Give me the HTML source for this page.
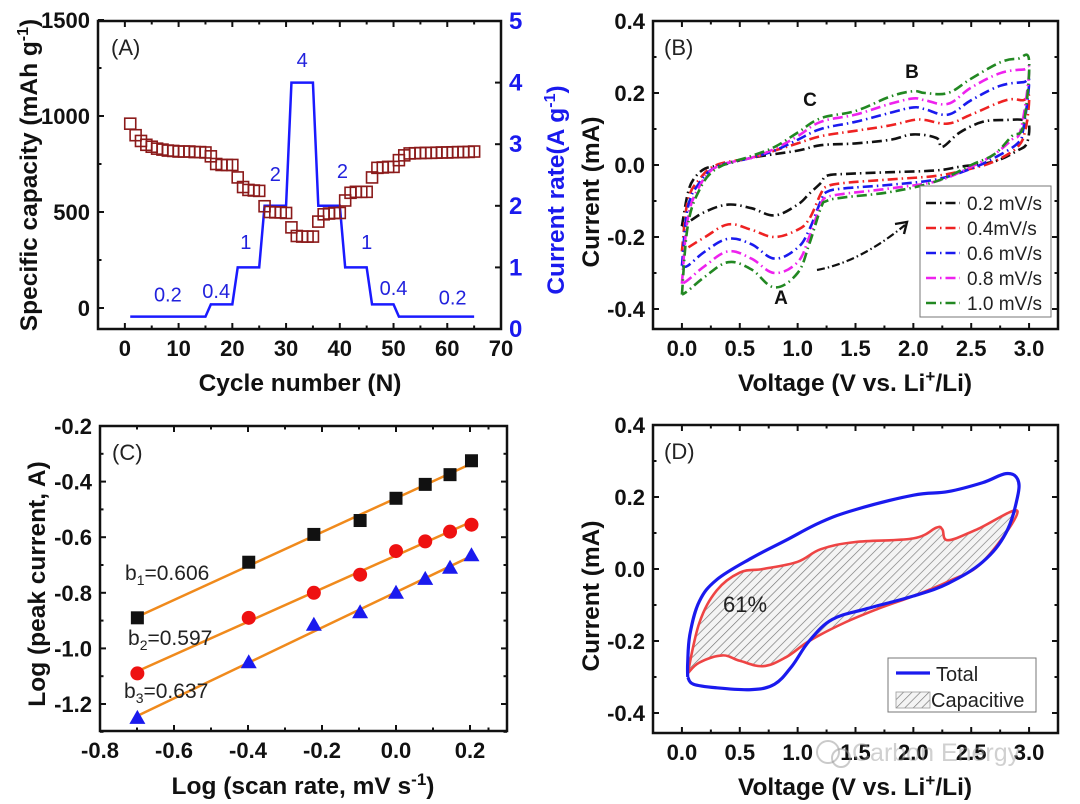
<!DOCTYPE html>
<html><head><meta charset="utf-8"><style>
body{margin:0;background:#fff;}
svg{display:block;font-family:"Liberation Sans",Arial,sans-serif;}
.tk{font-weight:bold;font-size:22px;fill:#111;}
.ttl{font-weight:bold;font-size:24.5px;fill:#111;}
</style></head><body>
<svg id="fig" width="1080" height="804" viewBox="0 0 1080 804">
<defs>
<pattern id="hatch" width="6" height="6" patternUnits="userSpaceOnUse" patternTransform="rotate(45)">
<rect width="6" height="6" fill="#f4f4f4"/><line x1="0" y1="0" x2="0" y2="6" stroke="#777" stroke-width="1.3"/>
</pattern>
</defs>
</svg>
<script>
// ===== Panel A data =====
const cycles = Array.from({length:65},(_,i)=>i+1);
const capacity = [960,900,870,850,840,830,825,820,818,815,815,815,812,812,810,790,750,745,745,745,680,630,615,612,610,530,500,498,498,495,420,375,372,372,372,450,488,492,495,495,560,600,605,605,605,680,730,732,735,735,770,795,805,806,807,808,808,809,810,810,811,812,812,813,815];
const rateX = [1,15,16,20,21,25,26,30,31,35,36,40,41,45,46,50,51,65];
const rateY = [0.2,0.2,0.4,0.4,1,1,2,2,4,4,2,2,1,1,0.4,0.4,0.2,0.2];
const rateLabels = ["0.2","0.4","1","2","4","2","1","0.4","0.2"];
const rateLabelX = [8,17,22.5,28,33,40.5,45,50,61];
const rateLabelY = [0.45,0.5,1.3,2.4,4.25,2.45,1.3,0.55,0.4];
const aXTicks = [0,10,20,30,40,50,60,70];
const aYTicks = [0,500,1000,1500];
const aY2Ticks = [0,1,2,3,4,5];

// ===== Panel B data =====
const scanRates = ["0.2 mV/s","0.4mV/s","0.6 mV/s","0.8 mV/s","1.0 mV/s"];
const cvColors = ["#111","#ee2222","#1a1aee","#ee22ee","#228822"];
const cvB1 = [[0,-0.17],[0.05,-0.08],[0.1,-0.04],[0.2,-0.01],[0.35,0],[0.6,0.02],[1.0,0.04],[1.2,0.055],[1.5,0.06],[1.8,0.07],[2.0,0.085],[2.2,0.075],[2.25,0.05],[2.4,0.09],[2.6,0.12],[2.8,0.125],[2.95,0.125],[3.0,0.11],[2.98,0.06],[2.9,0.04],[2.7,0.01],[2.4,-0.005],[2.2,-0.015],[1.8,-0.02],[1.4,-0.025],[1.25,-0.03],[1.2,-0.05],[1.1,-0.08],[1.0,-0.11],[0.8,-0.14],[0.6,-0.12],[0.4,-0.11],[0.2,-0.13],[0.05,-0.16],[0,-0.17]];
const cvB2 = [[0,-0.24],[0.05,-0.1],[0.15,-0.04],[0.3,0],[0.6,0.02],[0.8,0.04],[1.0,0.06],[1.2,0.08],[1.5,0.095],[1.8,0.11],[2.0,0.125],[2.1,0.125],[2.3,0.115],[2.5,0.14],[2.8,0.18],[2.95,0.18],[3.0,0.19],[2.97,0.1],[2.9,0.05],[2.7,0.01],[2.5,-0.01],[2.2,-0.03],[1.8,-0.04],[1.4,-0.05],[1.25,-0.06],[1.2,-0.08],[1.1,-0.15],[1.0,-0.18],[0.8,-0.2],[0.6,-0.18],[0.4,-0.165],[0.2,-0.2],[0.05,-0.23],[0,-0.24]];
const cvB3 = [[0,-0.28],[0.05,-0.12],[0.15,-0.05],[0.3,-0.005],[0.6,0.02],[0.8,0.04],[1.0,0.07],[1.2,0.1],[1.5,0.12],[1.8,0.145],[2.0,0.16],[2.1,0.155],[2.3,0.14],[2.5,0.18],[2.75,0.22],[2.95,0.23],[3.0,0.23],[2.95,0.1],[2.9,0.06],[2.7,0.02],[2.5,-0.01],[2.2,-0.04],[1.8,-0.055],[1.4,-0.065],[1.25,-0.075],[1.2,-0.1],[1.1,-0.18],[1.0,-0.23],[0.8,-0.26],[0.6,-0.22],[0.4,-0.205],[0.2,-0.24],[0.05,-0.28],[0,-0.28]];
const cvB4 = [[0,-0.33],[0.05,-0.15],[0.15,-0.06],[0.3,-0.005],[0.6,0.02],[0.8,0.045],[1.0,0.08],[1.2,0.12],[1.5,0.14],[1.8,0.17],[2.0,0.185],[2.1,0.18],[2.3,0.17],[2.5,0.215],[2.75,0.255],[2.95,0.265],[3.0,0.26],[2.93,0.1],[2.85,0.07],[2.7,0.03],[2.5,-0.005],[2.2,-0.045],[1.8,-0.065],[1.4,-0.08],[1.25,-0.09],[1.2,-0.11],[1.1,-0.2],[1.0,-0.27],[0.8,-0.3],[0.6,-0.26],[0.4,-0.24],[0.2,-0.28],[0.05,-0.32],[0,-0.33]];
const cvB5 = [[0,-0.36],[0.05,-0.17],[0.15,-0.07],[0.3,-0.01],[0.6,0.025],[0.8,0.05],[1.0,0.09],[1.2,0.13],[1.5,0.15],[1.8,0.19],[2.0,0.205],[2.1,0.2],[2.3,0.2],[2.5,0.24],[2.75,0.285],[2.9,0.295],[3.0,0.29],[2.95,0.11],[2.85,0.08],[2.7,0.03],[2.5,0],[2.2,-0.045],[1.8,-0.075],[1.4,-0.09],[1.25,-0.1],[1.2,-0.12],[1.1,-0.22],[1.0,-0.3],[0.8,-0.34],[0.6,-0.29],[0.4,-0.27],[0.2,-0.31],[0.05,-0.35],[0,-0.36]];
const vTicks = [0,0.5,1,1.5,2,2.5,3];
const vTickLabels = ["0.0","0.5","1.0","1.5","2.0","2.5","3.0"];
const iTicks = [-0.4,-0.2,0,0.2,0.4];
const iTickLabels = ["-0.4","-0.2","0.0","0.2","0.4"];

// ===== Panel C data =====
const logRate = [-0.699,-0.398,-0.222,-0.097,0,0.079,0.146,0.204];
const logI1 = [-0.89,-0.69,-0.59,-0.54,-0.46,-0.41,-0.375,-0.325];
const logI2 = [-1.09,-0.89,-0.80,-0.735,-0.65,-0.615,-0.58,-0.555];
const logI3 = [-1.25,-1.05,-0.915,-0.87,-0.80,-0.75,-0.71,-0.665];
const bLabels = ["0.606","0.597","0.637"];
const cXTicks = [-0.8,-0.6,-0.4,-0.2,0,0.2];
const cXTickLabels = ["-0.8","-0.6","-0.4","-0.2","0.0","0.2"];
const cYTicks = [-1.2,-1.0,-0.8,-0.6,-0.4,-0.2];
const cYTickLabels = ["-1.2","-1.0","-0.8","-0.6","-0.4","-0.2"];

// ===== Panel D data =====
const totalLoop = [[0.05,-0.3],[0.1,-0.32],[0.3,-0.33],[0.6,-0.335],[0.8,-0.32],[0.95,-0.27],[1.1,-0.2],[1.3,-0.14],[1.6,-0.11],[2.0,-0.075],[2.3,-0.04],[2.6,0.02],[2.8,0.1],[2.9,0.2],[2.9,0.25],[2.8,0.265],[2.6,0.24],[2.3,0.215],[2.0,0.205],[1.5,0.165],[1.2,0.13],[0.9,0.08],[0.6,0.03],[0.3,-0.03],[0.15,-0.09],[0.07,-0.18],[0.05,-0.26],[0.05,-0.3]];
const capLoop = [[0.05,-0.29],[0.15,-0.26],[0.35,-0.24],[0.5,-0.255],[0.7,-0.27],[0.9,-0.245],[1.1,-0.2],[1.4,-0.15],[1.7,-0.11],[2.0,-0.075],[2.3,-0.035],[2.6,0.02],[2.9,0.16],[2.55,0.11],[2.3,0.08],[2.25,0.11],[2.2,0.115],[2.0,0.085],[1.5,0.075],[1.2,0.055],[1.0,0.02],[0.7,0],[0.5,-0.01],[0.3,-0.06],[0.15,-0.15],[0.05,-0.29]];
const capPercent = "61%";

const NS="http://www.w3.org/2000/svg";
const svg=document.getElementById('fig');
function mk(tag,attrs,parent){const e=document.createElementNS(NS,tag);for(const k in attrs)e.setAttribute(k,attrs[k]);(parent||svg).appendChild(e);return e;}
function txt(x,y,s,cls,extra){const t=mk('text',Object.assign({x:x,y:y},extra||{}));if(cls)t.setAttribute('class',cls);t.textContent=s;return t;}
function lin(d0,d1,r0,r1){return v=>r0+(v-d0)*(r1-r0)/(d1-d0);}
function smooth(arr,sx,sy){const p=arr.map(q=>[sx(q[0]),sy(q[1])]);let d='M'+p[0][0].toFixed(1)+','+p[0][1].toFixed(1);
 for(let i=0;i<p.length-1;i++){const p0=p[Math.max(0,i-1)],p1=p[i],p2=p[i+1],p3=p[Math.min(p.length-1,i+2)];const t=0.18;
  const c1=[p1[0]+(p2[0]-p0[0])*t,p1[1]+(p2[1]-p0[1])*t],c2=[p2[0]-(p3[0]-p1[0])*t,p2[1]-(p3[1]-p1[1])*t];
  d+=` C${c1[0].toFixed(1)},${c1[1].toFixed(1)} ${c2[0].toFixed(1)},${c2[1].toFixed(1)} ${p2[0].toFixed(1)},${p2[1].toFixed(1)}`;}
 return d;}
function frame(x0,y0,x1,y1,name){const r=mk('rect',{x:x0,y:y0,width:x1-x0,height:y1-y0,fill:'none',stroke:'#111','stroke-width':2.5});}
function xTicks(sx,vals,labs,y0,y1,minor){vals.forEach((v,i)=>{const x=sx(v);mk('line',{x1:x,y1:y1,x2:x,y2:y1-6,stroke:'#111','stroke-width':2});mk('line',{x1:x,y1:y0,x2:x,y2:y0+6,stroke:'#111','stroke-width':2});const t=txt(x,y1+27,labs[i],'tk',{'text-anchor':'middle'});});
 (minor||[]).forEach(v=>{const x=sx(v);mk('line',{x1:x,y1:y1,x2:x,y2:y1-3.5,stroke:'#111','stroke-width':2});mk('line',{x1:x,y1:y0,x2:x,y2:y0+3.5,stroke:'#111','stroke-width':2});});}
function yTicks(sy,vals,labs,x0,x1,minor,noRight){vals.forEach((v,i)=>{const y=sy(v);mk('line',{x1:x0,y1:y,x2:x0+6,y2:y,stroke:'#111','stroke-width':2});if(!noRight)mk('line',{x1:x1,y1:y,x2:x1-6,y2:y,stroke:'#111','stroke-width':2});const t=txt(x0-8,y+8,labs[i],'tk',{'text-anchor':'end'});});
 (minor||[]).forEach(v=>{const y=sy(v);mk('line',{x1:x0,y1:y,x2:x0+3.5,y2:y,stroke:'#111','stroke-width':2});if(!noRight)mk('line',{x1:x1,y1:y,x2:x1-3.5,y2:y,stroke:'#111','stroke-width':2});});}
function mids(a){const m=[];for(let i=0;i<a.length-1;i++)m.push((a[i]+a[i+1])/2);return m;}

// ===== Panel A =====
(function(){
 const sx=lin(-5,70,98,501), sy=lin(0,1500,308,20), sy2=lin(0,5,329,21);
 frame(98,21,501,329,'panel-a-frame');
 xTicks(sx,aXTicks,aXTicks.map(String),21,329,mids(aXTicks));
 yTicks(sy,aYTicks,aYTicks.map(String),98,501,mids(aYTicks),true);
 aY2Ticks.forEach(v=>{const y=sy2(v);mk('line',{x1:501,y1:y,x2:495,y2:y,stroke:'#111','stroke-width':2});const t=txt(509,y+8,String(v),'tk',{fill:'#1a1aee'});t.style.fill='#1a1aee';t.style.fontSize='24px';});
 const rl=mk('polyline',{points:rateX.map((x,i)=>sx(x)+','+sy2(rateY[i])).join(' '),fill:'none',stroke:'#1a1aff','stroke-width':2.5});
 
 cycles.forEach((c,i)=>{const r=mk('rect',{x:sx(c)-5.5,y:sy(capacity[i])-5.5,width:11,height:11,fill:'none',stroke:'#8b1a1a','stroke-width':1.6});});
 rateLabels.forEach((s,i)=>{const t=txt(sx(rateLabelX[i]),sy2(rateLabelY[i]),s,null,{'text-anchor':'middle','font-size':20,fill:'#2222dd'});});
 const p=txt(111,55,'(A)',null,{'font-size':22,fill:'#222'});
 const xt=txt(300,391,'Cycle number (N)','ttl',{'text-anchor':'middle'});
 const yt=mk('text',{transform:'translate(37,175) rotate(-90)','text-anchor':'middle',class:'ttl'});yt.innerHTML='Specific capacity (mAh g<tspan dy="-9" font-size="16">-1</tspan><tspan dy="9">)</tspan>';
 const y2=mk('text',{transform:'translate(564,190) rotate(-90)','text-anchor':'middle',class:'ttl',fill:'#1a1aee'});y2.style.fill='#1a1aee';y2.innerHTML='Current rate(A g<tspan dy="-9" font-size="16">-1</tspan><tspan dy="9">)</tspan>';
})();

// ===== Panel B =====
(function(){
 const sx=lin(-0.25,3.25,653,1058), sy=lin(0,0.4,165,21);
 frame(653,21,1058,329,'panel-b-frame');
 xTicks(sx,vTicks,vTickLabels,21,329,mids(vTicks));
 yTicks(sy,iTicks,iTickLabels,653,1058,mids(iTicks));
 [cvB1,cvB2,cvB3,cvB4,cvB5].forEach((d,i)=>{const l=mk('path',{d:smooth(d,sx,sy),fill:'none',stroke:cvColors[i],'stroke-width':2.6,'stroke-dasharray':'10,4,1.5,4','stroke-linejoin':'round'});});
 [['C',810,106],['B',912,78],['A',781,304]].forEach(a=>{const t=txt(a[1],a[2],a[0],null,{'text-anchor':'middle','font-size':19,'font-weight':'bold',fill:'#111'});});
 const ar=mk('path',{d:'M817,270 Q860,262 905,225',fill:'none',stroke:'#111','stroke-width':2.2,'stroke-dasharray':'8,3,1.5,3'});
 mk('path',{d:'M895,224 L907,222 L904,234',fill:'none',stroke:'#111','stroke-width':2.4});
 const lg=mk('rect',{x:920,y:186,width:131,height:131,fill:'#fff',stroke:'#777','stroke-width':1});
 scanRates.forEach((s,i)=>{const y=203+i*25;mk('line',{x1:926,y1:y,x2:960,y2:y,stroke:cvColors[i],'stroke-width':2.6,'stroke-dasharray':'10,4,1.5,4'});const t=txt(967,y+7,s,null,{'font-size':19,fill:'#222'});});
 const p=txt(664,55,'(B)',null,{'font-size':22,fill:'#222'});
 const xt=mk('text',{x:855,y:391,'text-anchor':'middle',class:'ttl'});xt.innerHTML='Voltage (V vs. Li<tspan dy="-9" font-size="17">+</tspan><tspan dy="9">/Li)</tspan>';
 const yt=txt(0,0,'Current (mA)','ttl',{transform:'translate(599,192) rotate(-90)','text-anchor':'middle'});
})();

// ===== Panel C =====
(function(){
 const sx=lin(-0.8,0.3,100,507), sy=lin(-0.2,-1.2,426,704);
 frame(100,426,507,731,'panel-c-frame');
 xTicks(sx,cXTicks,cXTickLabels,426,731,mids(cXTicks).concat([0.3-0.05]));
 yTicks(sy,cYTicks,cYTickLabels,100,507,mids(cYTicks).concat([-1.3]));
 const series=[logI1,logI2,logI3];
 series.forEach((ys,k)=>{
  const n=ys.length,mx=logRate.reduce((a,b)=>a+b)/n,my=ys.reduce((a,b)=>a+b)/n;
  let sxy=0,sxx=0;logRate.forEach((x,i)=>{sxy+=(x-mx)*(ys[i]-my);sxx+=(x-mx)*(x-mx);});
  const m=sxy/sxx,b=my-m*mx,xa=logRate[0],xb=logRate[n-1];
  const fl=mk('line',{x1:sx(xa),y1:sy(m*xa+b),x2:sx(xb),y2:sy(m*xb+b),stroke:'#f08a1c','stroke-width':2.5});
 });
 logRate.forEach((x,i)=>{const px=sx(x);
  const a=mk('rect',{x:px-6.5,y:sy(logI1[i])-6.5,width:13,height:13,fill:'#111'});
  const c=mk('circle',{cx:px,cy:sy(logI2[i]),r:7,fill:'#ee1111'});
  const yy=sy(logI3[i]);const t=mk('polygon',{points:`${px},${yy-8} ${px-8},${yy+6} ${px+8},${yy+6}`,fill:'#1a1aee'});
 });
 [[125,580],[128,645],[124,698]].forEach((p,i)=>{const t=mk('text',{x:p[0],y:p[1],'font-size':21,fill:'#222'});t.innerHTML=`b<tspan dy="5" font-size="14">${i+1}</tspan><tspan dy="-5">=${bLabels[i]}</tspan>`;});
 const p=txt(112,460,'(C)',null,{'font-size':22,fill:'#222'});
 const xt=mk('text',{x:303,y:794,'text-anchor':'middle',class:'ttl'});xt.innerHTML='Log (scan rate, mV s<tspan dy="-9" font-size="17">-1</tspan><tspan dy="9">)</tspan>';
 const yt=txt(0,0,'Log (peak current, A)','ttl',{transform:'translate(45,584) rotate(-90)','text-anchor':'middle'});
})();

// ===== Panel D =====
(function(){
 const sx=lin(-0.25,3.25,653,1058), sy=lin(0,0.4,569,425);
 frame(653,425,1058,733,'panel-d-frame');
 xTicks(sx,vTicks,vTickLabels,425,733,mids(vTicks));
 yTicks(sy,iTicks,iTickLabels,653,1058,mids(iTicks));
 const cf=mk('path',{d:smooth(capLoop,sx,sy)+'Z',fill:'url(#hatch)',stroke:'#ee4444','stroke-width':2.6,'stroke-linejoin':'round'});
 const tl=mk('path',{d:smooth(totalLoop,sx,sy),fill:'none',stroke:'#1a1aee','stroke-width':3.2,'stroke-linejoin':'round'});
 const pc=txt(745,612,capPercent,null,{'text-anchor':'middle','font-size':22,fill:'#222'});
 const lg=mk('rect',{x:888,y:658,width:148,height:54,fill:'#fff',stroke:'#777','stroke-width':1});
 mk('line',{x1:896,y1:673,x2:930,y2:673,stroke:'#1a1aee','stroke-width':3.2});
 const t1=txt(936,681,'Total',null,{'font-size':20,fill:'#222'});
 mk('rect',{x:896,y:692,width:34,height:16,fill:'url(#hatch)',stroke:'#999','stroke-width':0.8});
 const t2=txt(931,707,'Capacitive',null,{'font-size':20,fill:'#222'});
 const p=txt(664,459,'(D)',null,{'font-size':22,fill:'#222'});
 const xt=mk('text',{x:855,y:795,'text-anchor':'middle',class:'ttl'});xt.innerHTML='Voltage (V vs. Li<tspan dy="-9" font-size="17">+</tspan><tspan dy="9">/Li)</tspan>';
 const yt=txt(0,0,'Current (mA)','ttl',{transform:'translate(599,596) rotate(-90)','text-anchor':'middle'});
 const wm=txt(852,761,'Carbon Energy',null,{'font-size':25,fill:'rgba(150,150,150,0.45)'});
 mk('circle',{cx:828,cy:752,r:11,fill:'none',stroke:'rgba(150,150,150,0.5)','stroke-width':2});
 mk('circle',{cx:841,cy:758,r:9,fill:'none',stroke:'rgba(150,150,150,0.5)','stroke-width':2});
})();
</script>
</body></html>
